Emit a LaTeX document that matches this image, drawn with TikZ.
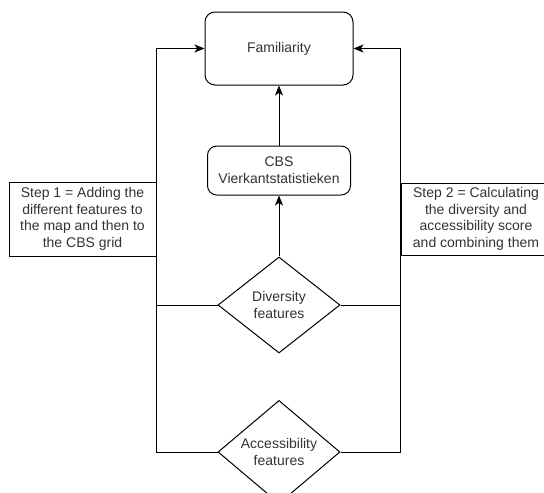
\documentclass[tikz,border=0pt]{standalone}
\usepackage{fontspec}
\setmainfont{Liberation Sans}
\usepackage{tikz}
\usetikzlibrary{arrows.meta,positioning,shapes.geometric,calc}
\definecolor{FMtext}{RGB}{51,51,51}
\definecolor{FMline}{RGB}{0,0,0}
\tikzset{
  block/.style={rounded corners=7pt,draw=FMline,line width=0.75pt,fill=white,
                text=FMtext,align=center,inner sep=2pt,
                font=\fontsize{10.5}{12.5}\selectfont},
  feature/.style={diamond,draw=FMline,line width=0.75pt,fill=white,
                text=FMtext,align=center,inner sep=0pt,
                font=\fontsize{10.5}{12.5}\selectfont,
                minimum width=91.5pt,minimum height=72pt},
  stepnote/.style={rectangle,draw=FMline,line width=0.75pt,fill=white,
                text=FMtext,align=center,inner sep=2pt,
                font=\fontsize{10.5}{12.5}\selectfont},
  fl/.style={-{Stealth[length=7.5pt,width=6pt,inset=2pt]},line width=0.75pt,draw=FMline},
  ln/.style={line width=0.75pt,draw=FMline}
}
\begin{document}
\begin{tikzpicture}[x=0.75pt,y=-0.75pt]
  \clip (0,0) rectangle (544,493);
  \fill[white] (0,0) rectangle (544,493);

  \node[block,minimum width=111pt,minimum height=54.75pt,rounded corners=7.5pt] (fam) at (279,48.5) {Familiarity};
  \node[block,minimum width=107.25pt,minimum height=36.75pt,below=45pt of fam.south,anchor=north] (cbs) {CBS\\Vierkantstatistieken};
  \node[feature] (div) at (279,305) {Diversity\\features};
  \node[feature] (acc) at (279,452) {Accessibility\\features};

  \node[stepnote,minimum width=110.25pt,minimum height=55.5pt] (step1) at (82.5,219) {Step 1 = Adding the\\different features to\\the map and then to\\the CBS grid};
  \node[stepnote,minimum width=112.5pt,minimum height=54pt] (step2) at (476,219) {Step 2 = Calculating\\the diversity and\\accessibility score\\and combining them};

  \draw[fl] (cbs) -- (fam);
  \draw[fl] (div) -- (cbs);

  % left branch
  \draw[ln] (div.west) -- (div.west -| step1.east);
  \draw[fl] (acc.west) -- (acc.west -| step1.east) |- (fam.west);

  % right branch
  \draw[ln] (div.east) -- (div.east -| step2.west);
  \draw[fl] (acc.east) -- (acc.east -| step2.west) |- (fam.east);
\end{tikzpicture}
\end{document}
